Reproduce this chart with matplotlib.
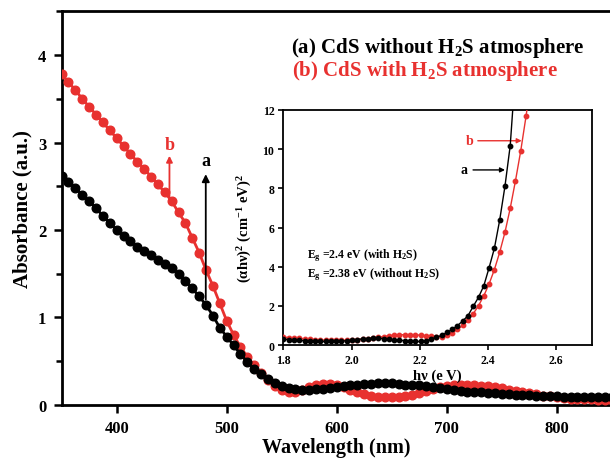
import numpy as np
import matplotlib
matplotlib.use("Agg")
import matplotlib.pyplot as plt
from matplotlib.ticker import MultipleLocator

plt.rcParams['font.family'] = ['Liberation Serif', 'DejaVu Serif']
plt.rcParams['font.weight'] = 'bold'
plt.rcParams['mathtext.fontset'] = 'custom'
plt.rcParams['mathtext.rm'] = 'Liberation Serif:bold'
plt.rcParams['mathtext.bf'] = 'Liberation Serif:bold'
plt.rcParams['mathtext.it'] = 'Liberation Serif:bold:italic'
plt.rcParams['axes.unicode_minus'] = False

# ---------------- main panel data ----------------
wavelength = np.linspace(350, 850, 81)
abs_b = [3.78, 3.69, 3.60, 3.50, 3.41, 3.32, 3.23, 3.14, 3.05, 2.96,
         2.87, 2.78, 2.70, 2.61, 2.52, 2.43, 2.33, 2.20, 2.08, 1.91,
         1.74, 1.54, 1.36, 1.16, 0.96, 0.80, 0.66, 0.55, 0.45, 0.36,
         0.28, 0.21, 0.17, 0.15, 0.15, 0.17, 0.20, 0.23, 0.24, 0.24,
         0.23, 0.20, 0.17, 0.14, 0.12, 0.10, 0.09, 0.09, 0.09, 0.09,
         0.10, 0.11, 0.13, 0.16, 0.18, 0.20, 0.21, 0.22, 0.22, 0.22,
         0.22, 0.21, 0.21, 0.20, 0.19, 0.17, 0.16, 0.14, 0.13, 0.12,
         0.10, 0.10, 0.09, 0.08, 0.07, 0.07, 0.06, 0.06, 0.05, 0.05,
         0.05]
abs_a = [2.62, 2.55, 2.48, 2.40, 2.33, 2.25, 2.16, 2.08, 2.00, 1.93,
         1.87, 1.81, 1.76, 1.71, 1.66, 1.61, 1.56, 1.50, 1.42, 1.33,
         1.24, 1.14, 1.02, 0.88, 0.78, 0.68, 0.58, 0.49, 0.41, 0.35,
         0.30, 0.25, 0.21, 0.19, 0.18, 0.17, 0.17, 0.18, 0.18, 0.19,
         0.20, 0.21, 0.22, 0.23, 0.24, 0.24, 0.25, 0.25, 0.25, 0.24,
         0.23, 0.23, 0.22, 0.21, 0.20, 0.19, 0.18, 0.17, 0.16, 0.15,
         0.14, 0.14, 0.13, 0.13, 0.12, 0.12, 0.11, 0.11, 0.11, 0.10,
         0.10, 0.10, 0.10, 0.09, 0.09, 0.09, 0.09, 0.09, 0.09, 0.09,
         0.09]
main_xticks = [400, 500, 600, 700, 800]
main_yticks = [0, 1, 2, 3, 4]

# ---------------- inset data ----------------
energy = np.linspace(1.8, 2.527, 48)
tauc_a = [0.30, 0.28, 0.26, 0.24, 0.22, 0.20, 0.19, 0.18, 0.18, 0.18,
          0.19, 0.20, 0.22, 0.25, 0.28, 0.31, 0.33, 0.34, 0.34, 0.33,
          0.31, 0.28, 0.25, 0.22, 0.19, 0.18, 0.18, 0.22, 0.30, 0.39,
          0.50, 0.64, 0.80, 0.99, 1.23, 1.50, 1.98, 2.44, 3.03, 3.95,
          4.94, 6.37, 8.10, 10.18, 14.0]
tauc_b = [0.40, 0.38, 0.36, 0.34, 0.32, 0.30, 0.28, 0.26, 0.25, 0.24,
          0.24, 0.24, 0.25, 0.26, 0.28, 0.30, 0.33, 0.36, 0.40, 0.43,
          0.47, 0.50, 0.52, 0.53, 0.53, 0.52, 0.50, 0.47, 0.44, 0.41,
          0.43, 0.51, 0.62, 0.80, 1.00, 1.26, 1.60, 2.01, 2.52, 3.12,
          3.85, 4.73, 5.75, 6.98, 8.39, 9.92, 11.68, 13.6]
inset_xticks = [1.8, 2.0, 2.2, 2.4, 2.6]
inset_yticks = [0, 2, 4, 6, 8, 10, 12]

RED = '#e8312f'
BLACK = '#000000'

fig = plt.figure(figsize=(6.1, 4.6), dpi=100)
ax = fig.add_axes([0.101, 0.118, 0.902, 0.855])

ax.plot(wavelength, abs_b, '-o', color=RED, lw=2.0, ms=6.2, mec=RED, mfc=RED, zorder=3)
ax.plot(wavelength, abs_a, '-o', color=BLACK, lw=2.0, ms=6.2, mec=BLACK, mfc=BLACK, zorder=4)

ax.set_xlim(350, 850)
ax.set_ylim(0, 4.5)
ax.set_xticks(main_xticks)
ax.set_yticks(main_yticks)
ax.yaxis.set_minor_locator(MultipleLocator(0.5))
for s in ax.spines.values():
    s.set_linewidth(2.0)
ax.tick_params(axis='both', which='major', direction='out', length=6, width=1.8,
               labelsize=12, pad=5)
ax.tick_params(axis='y', which='minor', direction='out', length=4, width=1.8)
ax.tick_params(top=False, right=False)
for lab in ax.get_xticklabels() + ax.get_yticklabels():
    lab.set_fontweight('bold')
ax.set_xlabel('Wavelength (nm)', fontsize=14.5, fontweight='bold', labelpad=1)
ax.set_ylabel('Absorbance (a.u.)', fontsize=15, fontweight='bold', labelpad=4)

# legend-like texts
fig.text(0.477, 0.895, '(a) CdS without H$_2$S atmosphere', color=BLACK,
         fontsize=15, fontweight='bold', va='center', ha='left')
fig.text(0.479, 0.845, '(b) CdS with H$_2$S atmosphere', color=RED,
         fontsize=15, fontweight='bold', va='center', ha='left')

# main arrows
ax.annotate('', xy=(448, 2.88), xytext=(448, 2.33),
            arrowprops=dict(arrowstyle='-|>', color=RED, lw=1.3, mutation_scale=9))
ax.text(448, 2.98, 'b', color=RED, fontsize=13, fontweight='bold', ha='center', va='center')
ax.annotate('', xy=(481, 2.67), xytext=(481, 1.17),
            arrowprops=dict(arrowstyle='-|>', color=BLACK, lw=1.3, mutation_scale=11))
ax.text(481, 2.79, 'a', color=BLACK, fontsize=13, fontweight='bold', ha='center', va='center')

# ---------------- inset ----------------
axi = fig.add_axes([0.4646, 0.2478, 0.5059, 0.5109])
axi.plot(energy[:len(tauc_b)], tauc_b, '-o', color=RED, lw=1.0, ms=3.2, zorder=3)
axi.plot(energy[:len(tauc_a)], tauc_a, '-o', color=BLACK, lw=1.0, ms=3.2, zorder=4)
axi.set_xlim(1.8, 2.705)
axi.set_ylim(0, 12)
axi.set_xticks(inset_xticks)
axi.set_yticks(inset_yticks)
axi.set_xticklabels([f'{v:.1f}' for v in inset_xticks])
for s in axi.spines.values():
    s.set_linewidth(1.3)
axi.tick_params(axis='both', direction='out', length=3.5, width=1.2, labelsize=8.5, pad=3)
for lab in axi.get_xticklabels() + axi.get_yticklabels():
    lab.set_fontweight('bold')
axi.set_xlabel('hν (e V)', fontsize=10.5, fontweight='bold', labelpad=2)
axi.set_ylabel('(αhν)$^2$ (cm$^{-1}$ eV)$^2$', fontsize=10.5, fontweight='bold', labelpad=6)

axi.text(0.075, 0.385, r'E$_\mathrm{g}$ =2.4 eV (with H$_2$S)', transform=axi.transAxes,
         fontsize=8.5, fontweight='bold', va='center', ha='left')
axi.text(0.075, 0.305, r'E$_\mathrm{g}$ =2.38 eV (without H$_2$S)', transform=axi.transAxes,
         fontsize=8.5, fontweight='bold', va='center', ha='left')

axi.annotate('', xy=(2.507, 10.43), xytext=(2.362, 10.43),
             arrowprops=dict(arrowstyle='-|>', color=RED, lw=1.0, mutation_scale=7))
axi.text(2.345, 10.43, 'b', color=RED, fontsize=10, fontweight='bold', ha='center', va='center')
axi.annotate('', xy=(2.458, 8.94), xytext=(2.348, 8.94),
             arrowprops=dict(arrowstyle='-|>', color=BLACK, lw=1.0, mutation_scale=7))
axi.text(2.33, 8.94, 'a', color=BLACK, fontsize=10, fontweight='bold', ha='center', va='center')

fig.savefig('out.png', dpi=100)
